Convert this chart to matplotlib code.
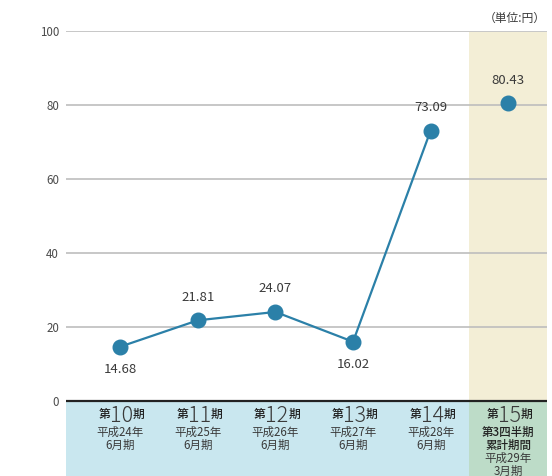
import matplotlib.pyplot as plt
from matplotlib.patches import Rectangle

plt.rcParams['font.family'] = ['Noto Sans CJK JP', 'DejaVu Sans']

# data
periods = ['10', '11', '12', '13', '14', '15']
sub_labels = [
    ['平成24年', '6月期'],
    ['平成25年', '6月期'],
    ['平成26年', '6月期'],
    ['平成27年', '6月期'],
    ['平成28年', '6月期'],
    ['第3四半期', '累計期間', '平成29年', '3月期'],
]
values = [14.68, 21.81, 24.07, 16.02, 73.09, 80.43]
label_below = [True, False, False, True, False, False]
yticks = [0, 20, 40, 60, 80, 100]

line_color = '#2b80a8'
text_color = '#3a3a3a'

fig = plt.figure(figsize=(5.52, 4.76), dpi=100)
ax = fig.add_axes([66 / 552, 0, 481 / 552, 1 - 31 / 476])

ymin = -75 / 3.7
ax.set_xlim(-0.7, 5.5)
ax.set_ylim(ymin, 100)

# background bands
ax.add_patch(Rectangle((-0.7, ymin), 6.2, -ymin, color='#c9e7ef', zorder=0, lw=0))
ax.add_patch(Rectangle((4.5, ymin), 1.0, -ymin, color='#bddcc8', zorder=0.5, lw=0))
ax.add_patch(Rectangle((4.5, 0), 1.0, 99.7, color='#f3eed6', zorder=0, lw=0))

# grid lines
for t in yticks[1:]:
    ax.axhline(t, color='#bdbdbd', lw=1.2, zorder=1)
ax.axhline(0, color='#222222', lw=1.6, zorder=3)

# main line (last point not connected)
xs = list(range(len(values)))
ax.plot(xs[:5], values[:5], color=line_color, lw=1.6, zorder=4)
ax.plot(xs, values, 'o', color=line_color, ms=10.5, zorder=5)

for x, v, below in zip(xs, values, label_below):
    ax.annotate(f'{v:.2f}', (x, v), xytext=(0, -12 if below else 12),
                textcoords='offset points', ha='center',
                va='top' if below else 'bottom', fontsize=9.5, color=text_color)

# category labels
for x, p, subs in zip(xs, periods, sub_labels):
    num = ax.text(x + 0.02, -4.0, p, ha='center', va='center', fontsize=15.5,
                  color=text_color, fontweight='light')
    ax.annotate('第', xy=(0, 0.26), xycoords=num, xytext=(0.3, 0),
                textcoords='offset points', ha='right', va='bottom',
                fontsize=8.5, color='#222222', fontweight='medium')
    ax.annotate('期', xy=(1, 0.26), xycoords=num, xytext=(-0.3, 0),
                textcoords='offset points', ha='left', va='bottom',
                fontsize=8.5, color='#222222', fontweight='medium')
    for i, s in enumerate(subs):
        bold = len(subs) > 2 and i < 2
        ax.text(x, -8.6 - i * 3.45, s, ha='center', va='center', fontsize=8.3,
                color='#222222' if bold else text_color,
                fontweight='medium' if bold else 'normal')

ax.set_yticks(yticks)
ax.set_xticks([])
ax.tick_params(axis='y', length=0, pad=5, labelsize=8.3, labelcolor='#4a4a4a')
for s in ax.spines.values():
    s.set_visible(False)

fig.text(546 / 552, 1 - 18 / 476, '（単位:円）', ha='right', va='center',
         fontsize=8.5, color=text_color)

fig.savefig('out.png', dpi=100)
